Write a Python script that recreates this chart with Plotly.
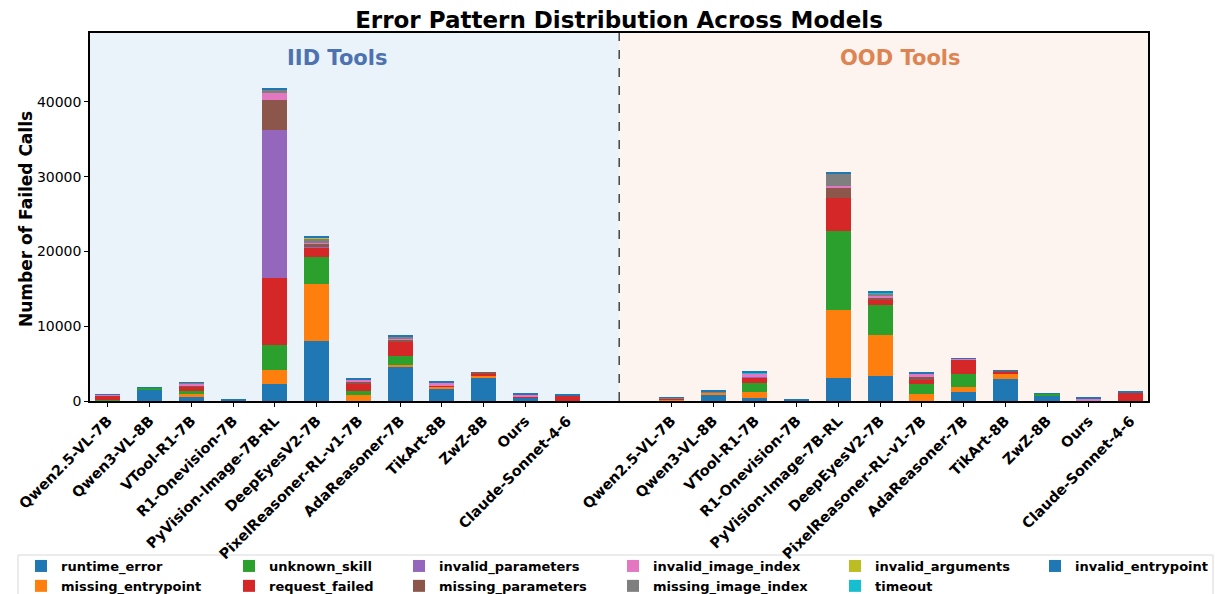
import plotly.graph_objects as go

models = ["Qwen2.5-VL-7B", "Qwen3-VL-8B", "VTool-R1-7B", "R1-Onevision-7B",
          "PyVision-Image-7B-RL", "DeepEyesV2-7B", "PixelReasoner-RL-v1-7B",
          "AdaReasoner-7B", "TikArt-8B", "ZwZ-8B", "Ours", "Claude-Sonnet-4-6"]

error_types = ["runtime_error", "missing_entrypoint", "unknown_skill", "request_failed",
               "invalid_parameters", "missing_parameters", "invalid_image_index",
               "missing_image_index", "invalid_arguments", "timeout", "invalid_entrypoint"]

# IID tools (order follows models)
iid_runtime_error       = [0, 1600, 535, 100, 2275, 8030, 0, 4550, 1605, 3080, 445, 0]
iid_missing_entrypoint  = [110, 0, 445, 0, 1870, 7630, 800, 270, 270, 310, 0, 0]
iid_unknown_skill       = [60, 180, 355, 0, 3345, 3610, 535, 1250, 0, 0, 0, 0]
iid_request_failed      = [500, 0, 625, 0, 8965, 1250, 1070, 1870, 135, 270, 90, 800]
iid_invalid_parameters  = [0, 0, 0, 0, 19800, 130, 0, 0, 0, 0, 0, 0]
iid_missing_parameters  = [0, 0, 90, 0, 4015, 400, 200, 310, 0, 90, 0, 0]
iid_invalid_image_index = [180, 0, 355, 0, 935, 90, 220, 90, 400, 0, 270, 0]
iid_missing_image_index = [0, 0, 45, 0, 400, 535, 60, 220, 0, 0, 0, 0]
iid_invalid_arguments   = [0, 0, 0, 0, 0, 135, 0, 0, 0, 0, 0, 0]
iid_timeout             = [0, 0, 0, 0, 0, 45, 0, 0, 0, 0, 0, 0]
iid_invalid_entrypoint  = [80, 90, 90, 40, 135, 90, 90, 135, 135, 0, 135, 135]

# OOD tools
ood_runtime_error       = [0, 935, 400, 100, 3080, 3345, 0, 1205, 2900, 760, 0, 0]
ood_missing_entrypoint  = [135, 135, 800, 0, 9100, 5490, 935, 625, 670, 0, 0, 0]
ood_unknown_skill       = [0, 0, 1160, 0, 10530, 4015, 1340, 1785, 0, 180, 0, 0]
ood_request_failed      = [150, 0, 715, 0, 4460, 670, 625, 1870, 355, 0, 0, 1160]
ood_invalid_parameters  = [0, 0, 90, 0, 0, 90, 0, 0, 0, 0, 0, 0]
ood_missing_parameters  = [100, 90, 0, 0, 1340, 265, 265, 0, 90, 0, 0, 0]
ood_invalid_image_index = [0, 0, 535, 0, 265, 135, 535, 135, 0, 0, 355, 0]
ood_missing_image_index = [60, 90, 0, 0, 1695, 355, 0, 0, 0, 0, 0, 0]
ood_invalid_arguments   = [0, 0, 0, 0, 0, 0, 0, 0, 0, 0, 0, 0]
ood_timeout             = [0, 0, 90, 0, 0, 180, 0, 0, 0, 0, 0, 0]
ood_invalid_entrypoint  = [60, 90, 90, 35, 135, 90, 135, 90, 90, 90, 135, 135]

iid_series = [iid_runtime_error, iid_missing_entrypoint, iid_unknown_skill, iid_request_failed,
              iid_invalid_parameters, iid_missing_parameters, iid_invalid_image_index,
              iid_missing_image_index, iid_invalid_arguments, iid_timeout, iid_invalid_entrypoint]
ood_series = [ood_runtime_error, ood_missing_entrypoint, ood_unknown_skill, ood_request_failed,
              ood_invalid_parameters, ood_missing_parameters, ood_invalid_image_index,
              ood_missing_image_index, ood_invalid_arguments, ood_timeout, ood_invalid_entrypoint]

colors = ["#1f77b4", "#ff7f0e", "#2ca02c", "#d62728", "#9467bd", "#8c564b",
          "#e377c2", "#7f7f7f", "#bcbd22", "#17becf", "#1f77b4"]

n = len(models)
x_iid = list(range(n))
offset = n + 1.5
x_ood = [i + offset for i in range(n)]
divider = (x_iid[-1] + x_ood[0]) / 2
x_lo, x_hi = -0.43, 24.92

FONT = "DejaVu Sans"
W, H = 1215, 594
ML, MR, MT, MB = 90, 67, 33, 193
PW, PH = W - ML - MR, H - MT - MB

# legend laid out in 6 columns of 2 entries (column-wise, like the reference)
legend_names = ["legend", "legend2", "legend3", "legend4", "legend5", "legend6"]
legend_x_px = [21, 229, 399, 613, 835, 1035]

fig = go.Figure()
for k, name in enumerate(error_types):
    fig.add_trace(go.Bar(
        x=x_iid + x_ood,
        y=iid_series[k] + ood_series[k],
        name=name,
        width=0.6,
        marker=dict(color=colors[k], line=dict(width=0)),
        legend=legend_names[k // 2],
    ))

fig.add_shape(type="rect", xref="x", yref="paper", x0=x_lo, x1=divider, y0=0, y1=1,
              fillcolor="#EBF3FA", line=dict(width=0), layer="below")
fig.add_shape(type="rect", xref="x", yref="paper", x0=divider, x1=x_hi, y0=0, y1=1,
              fillcolor="#FDF4F0", line=dict(width=0), layer="below")
fig.add_shape(type="line", xref="x", yref="paper", x0=divider, x1=divider, y0=0, y1=1,
              line=dict(color="#444444", width=1.5, dash="dash"))
# legend frame
fig.add_shape(type="rect", xref="paper", yref="paper",
              x0=(18 - ML) / PW, x1=(1213 - ML) / PW,
              y0=(H - MB - 600) / PH, y1=(H - MB - 555) / PH,
              line=dict(color="#d8d8d8", width=1), fillcolor="rgba(255,255,255,0.8)",
              layer="below")

fig.add_annotation(x=(x_iid[0] + x_iid[-1]) / 2, y=(H - MB - 58) / PH, xref="x", yref="paper",
                   text="<b>IID Tools</b>", showarrow=False, yanchor="middle",
                   font=dict(family=FONT, size=21, color="#4C72B0"))
fig.add_annotation(x=(x_ood[0] + x_ood[-1]) / 2, y=(H - MB - 58) / PH, xref="x", yref="paper",
                   text="<b>OOD Tools</b>", showarrow=False, yanchor="middle",
                   font=dict(family=FONT, size=21, color="#DD8452"))
# y-axis title
fig.add_annotation(x=(26 - ML) / PW, y=(H - MB - 219) / PH, xref="paper", yref="paper",
                   text="<b>Number of Failed Calls</b>", showarrow=False, textangle=-90,
                   xanchor="center", yanchor="middle",
                   font=dict(family=FONT, size=17, color="black"))

legend_common = dict(orientation="v", xref="container", yref="container",
                     xanchor="left", yanchor="top", y=(H - 551) / H,
                     font=dict(family=FONT, size=13, weight="bold"),
                     bgcolor="rgba(0,0,0,0)", borderwidth=0, traceorder="normal",
                     tracegroupgap=0)
legend_layout = {}
for name, xp in zip(legend_names, legend_x_px):
    legend_layout[name] = dict(legend_common, x=xp / W)

fig.update_layout(
    width=W, height=H,
    barmode="stack",
    bargap=0,
    plot_bgcolor="white",
    paper_bgcolor="white",
    margin=dict(l=ML, r=MR, t=MT, b=MB, autoexpand=False),
    title=dict(text="<b>Error Pattern Distribution Across Models</b>", x=(ML + W - MR) / 2 / W,
               xanchor="center", y=(H - 20) / H, yanchor="middle",
               font=dict(family=FONT, size=23, color="black")),
    font=dict(family=FONT, color="black"),
    **legend_layout,
)
fig.update_xaxes(
    range=[x_lo, x_hi],
    tickmode="array", tickvals=x_iid + x_ood, ticktext=models + models,
    tickangle=-45, tickfont=dict(family=FONT, size=14.5, weight="bold"),
    ticks="outside", ticklen=4, tickcolor="black",
    showline=True, linecolor="black", linewidth=1.5, mirror=True,
    showgrid=False, zeroline=False, automargin=False,
)
fig.update_yaxes(
    range=[0, 49200],
    tickvals=[0, 10000, 20000, 30000, 40000], tickformat="d",
    tickfont=dict(family=FONT, size=14),
    ticks="outside", ticklen=4, tickcolor="black",
    showline=True, linecolor="black", linewidth=1.5, mirror=True,
    showgrid=False, zeroline=False, automargin=False,
)

fig.write_html("out.html", config={"displayModeBar": False},
               post_script="document.body.style.margin='0';")
